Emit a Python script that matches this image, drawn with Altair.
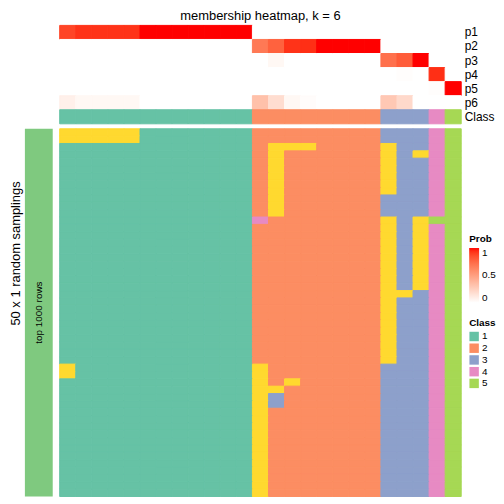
import altair as alt
import pandas as pd

# ---------------- data ----------------
n_cols = 25
n_rows = 50
col_class = [1] * 12 + [2] * 8 + [3] * 3 + [4] + [5]

p1 = [0.88, 0.93, 0.93, 0.93, 0.93, 1, 1, 1, 1, 1, 1, 1] + [0] * 13
p2 = [0] * 12 + [0.68, 0.78, 0.93, 0.94, 1, 1, 1, 1] + [0] * 5
p3 = [0] * 13 + [0.04] + [0] * 6 + [0.72, 0.8, 1.0] + [0] * 2
p4 = [0] * 21 + [0.01, 0, 0.94, 0]
p5 = [0] * 23 + [0.01, 1.0]
p6 = [0.08] + [0.04] * 4 + [0] * 7 + [0.33, 0.18, 0.04, 0.015] + [0] * 4 + [0.29, 0.2] + [0] * 3

# cells of the sampling matrix that differ from the column's class
exc_row_from = [0, 2, 2, 12, 12, 2, 3, 12, 12, 22, 32, 32, 34, 35, 36]
exc_row_to = [1, 2, 11, 12, 12, 8, 3, 31, 21, 22, 33, 49, 34, 35, 37]
exc_col_from = [0, 13, 13, 12, 23, 20, 22, 20, 22, 21, 0, 12, 14, 13, 13]
exc_col_to = [4, 15, 13, 12, 23, 20, 22, 20, 22, 21, 0, 12, 14, 13, 13]
exc_class = [6, 6, 6, 4, 5, 6, 6, 6, 6, 6, 6, 6, 6, 6, 3]

prob_names = ["p1", "p2", "p3", "p4", "p5", "p6"]
prob_rows = [p1, p2, p3, p4, p5, p6]
row_labels = prob_names + ["Class"]
class_labels = ["1", "2", "3", "4", "5", "6"]
set2 = ["#66C2A5", "#FC8D62", "#8DA0CB", "#E78AC3", "#A6D854", "#FFD92F"]

# ---------------- tables ----------------
prob_df = pd.DataFrame(
    [{"series": name, "col": c, "prob": vals[c]}
     for name, vals in zip(prob_names, prob_rows) for c in range(n_cols)]
)
class_df = pd.DataFrame(
    [{"series": "Class", "col": c, "cls": str(col_class[c])} for c in range(n_cols)]
)

matrix = [[col_class[c] for c in range(n_cols)] for _ in range(n_rows)]
for r0, r1, c0, c1, k in zip(exc_row_from, exc_row_to, exc_col_from, exc_col_to, exc_class):
    for r in range(r0, r1 + 1):
        for c in range(c0, c1 + 1):
            matrix[r][c] = k
main_df = pd.DataFrame(
    [{"row": r, "col": c, "cls": str(matrix[r][c])} for r in range(n_rows) for c in range(n_cols)]
)
bar_df = pd.DataFrame({"grp": ["top 1000 rows"]})

# ---------------- styling ----------------
FONT = "Liberation Sans"
W = 404
H_TOP = 99
H_MAIN = 370
LEG_X = 34 + W + 9
SW = 1.0

fill_scale = alt.Scale(domain=class_labels, range=set2)
prob_scale = alt.Scale(domain=[0, 1], range=["#FFFFFF", "#FF0000"], interpolate="lab")
class_legend = alt.Legend(
    title="Class", values=["1", "2", "3", "4", "5"], orient="none",
    legendX=LEG_X, legendY=294, symbolType="square", symbolSize=90,
    symbolStrokeWidth=0, rowPadding=1.8, labelFontSize=10, titleFontSize=10,
    titleFontWeight="bold", titlePadding=4, labelOffset=3,
)
prob_legend = alt.Legend(
    title="Prob", orient="none", legendX=LEG_X, legendY=210, values=[0, 0.5, 1],
    format=".1~f", gradientLength=55, gradientThickness=10, labelFontSize=10,
    titleFontSize=10, titleFontWeight="bold", titlePadding=4, gradientStrokeWidth=0,
    labelOffset=3,
)

x_enc = alt.X("col:O", axis=None,
              scale=alt.Scale(domain=list(range(n_cols)), paddingInner=0, paddingOuter=0))

y_top = alt.Y(
    "series:N",
    scale=alt.Scale(domain=row_labels, paddingInner=0, paddingOuter=0),
    axis=alt.Axis(orient="right", title=None, ticks=False, domain=False,
                  labelPadding=3, labelFontSize=12, labelColor="black"),
)

prob_layer = alt.Chart(prob_df).mark_rect(strokeWidth=SW).encode(
    x=x_enc, y=y_top,
    color=alt.Color("prob:Q", scale=prob_scale, legend=prob_legend),
    stroke=alt.Stroke("prob:Q", scale=prob_scale, legend=None),
)
class_layer = alt.Chart(class_df).mark_rect(strokeWidth=SW).encode(
    x=x_enc, y=y_top,
    fill=alt.Fill("cls:N", scale=fill_scale, legend=class_legend),
    stroke=alt.Stroke("cls:N", scale=fill_scale, legend=None),
)
top = alt.layer(prob_layer, class_layer).resolve_scale(stroke="independent").properties(
    width=W, height=H_TOP,
    title=alt.TitleParams("membership heatmap, k = 6", fontSize=13, fontWeight="normal",
                          anchor="middle", offset=2, font=FONT),
)

main = alt.Chart(main_df).mark_rect(strokeWidth=SW).encode(
    x=x_enc,
    y=alt.Y("row:O", axis=None,
            scale=alt.Scale(domain=list(range(n_rows)), paddingInner=0, paddingOuter=0)),
    fill=alt.Fill("cls:N", scale=fill_scale, legend=class_legend),
    stroke=alt.Stroke("cls:N", scale=fill_scale, legend=None),
).properties(width=W, height=H_MAIN)

left_axis = alt.Axis(title="50 x 1 random samplings", labels=False, ticks=False, domain=False,
                     titleFontSize=13, titleFontWeight="normal", titlePadding=2, titleY=125)
bar_x = alt.X("grp:N", axis=None, scale=alt.Scale(paddingInner=0, paddingOuter=0))
bar_y = alt.Y("grp:N", axis=left_axis, scale=alt.Scale(paddingInner=0, paddingOuter=0))
left_bar = alt.layer(
    alt.Chart(bar_df).mark_rect(color="#7FC97F").encode(x=bar_x, y=bar_y),
    alt.Chart(bar_df).mark_text(angle=270, fontSize=10, color="black").encode(
        x=bar_x, y=bar_y, text="grp:N"),
).properties(width=28, height=H_MAIN)

spacer_axis = alt.Axis(title=" ", titleOpacity=0, labels=False, ticks=False, domain=False,
                       titleFontSize=13, titleFontWeight="normal", titlePadding=2)
spacer = alt.Chart(bar_df).mark_rect(opacity=0).encode(
    x=bar_x, y=alt.Y("grp:N", axis=spacer_axis)
).properties(width=28, height=H_TOP)

row_a = alt.hconcat(spacer, top, spacing=6).resolve_scale(fill="shared", color="shared")
row_b = alt.hconcat(left_bar, main, spacing=6).resolve_scale(fill="shared")

chart = alt.vconcat(row_a, row_b, spacing=3).resolve_scale(
    fill="shared", color="shared"
).properties(
    padding={"left": 2, "top": 0, "right": 0, "bottom": 0}
).configure(font=FONT).configure_view(strokeWidth=0).configure_axis(
    labelFont=FONT, titleFont=FONT
).configure_legend(labelFont=FONT, titleFont=FONT)

chart.save("out.html", embed_options={"renderer": "svg", "actions": False})
